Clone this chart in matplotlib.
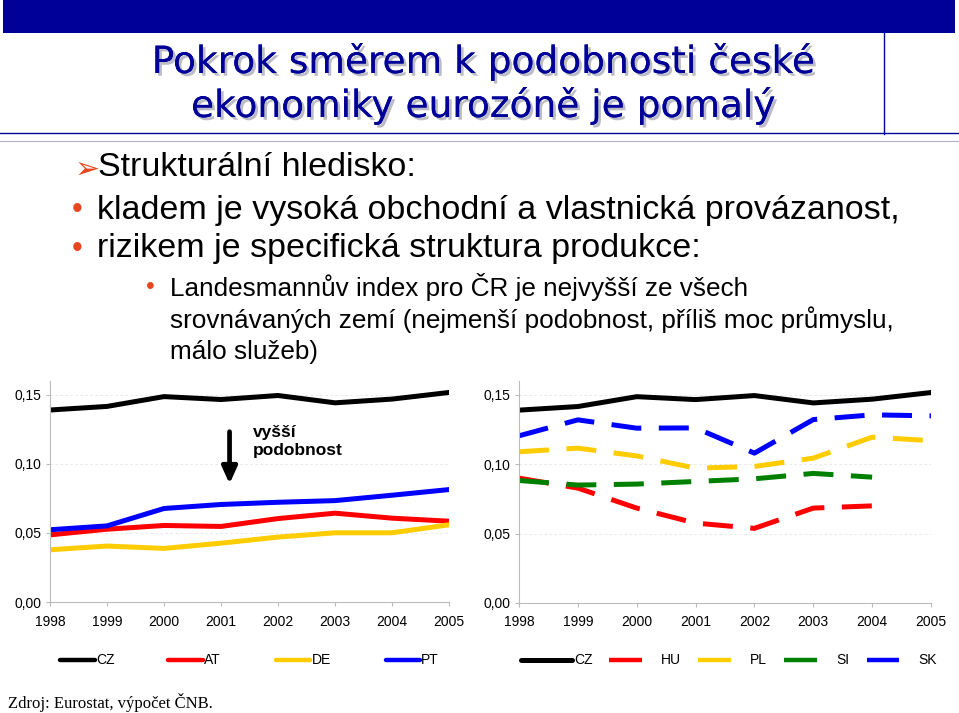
import matplotlib
matplotlib.use("Agg")
import matplotlib.pyplot as plt
from matplotlib.patches import Rectangle
from matplotlib.lines import Line2D
import matplotlib.patheffects as pe

years = [1998, 1999, 2000, 2001, 2002, 2003, 2004, 2005]
year_labels = [str(y) for y in years]

cz = [0.139, 0.1416, 0.1487, 0.1466, 0.1495, 0.1442, 0.1469, 0.1517]
at = [0.0486, 0.0527, 0.0554, 0.0547, 0.0604, 0.0643, 0.0607, 0.0585]
de = [0.0378, 0.0405, 0.0388, 0.0426, 0.0470, 0.0501, 0.0501, 0.0559]
pt = [0.0523, 0.0551, 0.0677, 0.0706, 0.0722, 0.0734, 0.0773, 0.0814]

hu_years = [1998, 1999, 2000, 2001, 2002, 2003, 2004]
hu = [0.0900, 0.0828, 0.0684, 0.0576, 0.0538, 0.0684, 0.0700]
pl = [0.1090, 0.1116, 0.1060, 0.0972, 0.0984, 0.1044, 0.1195, 0.1170]
si_years = [1998, 1999, 2000, 2001, 2002, 2003, 2004]
si = [0.0883, 0.0850, 0.0857, 0.0876, 0.0895, 0.0934, 0.0907]
sk = [0.1205, 0.1320, 0.1260, 0.1262, 0.1080, 0.1322, 0.1356, 0.1349]

yticks = [0.0, 0.05, 0.10, 0.15]
ytick_labels = ["0,00", "0,05", "0,10", "0,15"]

C_BLACK = "#000000"
C_RED = "#FF0000"
C_YEL = "#FFCC00"
C_BLUE = "#0000FF"
C_GREEN = "#008000"
NAVY = "#000099"
BULLET = "#E8461E"

W, H = 959, 713
fig = plt.figure(figsize=(W / 100, H / 100), dpi=100)
fig.patch.set_facecolor("white")

def fx(x):
    return x / W

def fy(y):
    return 1 - y / H

# banner and frame lines
fig.patches.append(Rectangle((fx(3), fy(33)), fx(952), 33 / H, transform=fig.transFigure,
                             facecolor=NAVY, edgecolor="none"))
fig.lines.append(Line2D([fx(884), fx(884)], [fy(33), fy(134)], transform=fig.transFigure,
                        color=NAVY, lw=1.0))
fig.lines.append(Line2D([fx(0), fx(959)], [fy(133), fy(133)], transform=fig.transFigure,
                        color=NAVY, lw=1.0))
fig.lines.append(Line2D([fx(0), fx(959)], [fy(141), fy(141)], transform=fig.transFigure,
                        color="#B0B0C8", lw=0.8))

# title
shadow = [pe.withSimplePatchShadow(offset=(2, -2), shadow_rgbFace="#9090A0", alpha=0.6), pe.Normal()]
for txt, yy in [("Pokrok směrem k podobnosti české", 62), ("ekonomiky eurozóně je pomalý", 106)]:
    fig.text(fx(483), fy(yy), txt, ha="center", va="center", fontsize=27,
             family="DejaVu Sans", color=NAVY, path_effects=shadow)

# bullets
body = "Liberation Sans"
fig.text(fx(75), fy(169), "➢", ha="left", va="center", fontsize=21.5, color=BULLET,
         family="DejaVu Sans")
fig.text(fx(98), fy(168), "Strukturální hledisko:", ha="left", va="center", fontsize=24.5,
         family=body, color="black")
for txt, yy in [("kladem je vysoká obchodní a vlastnická provázanost,", 210),
                ("rizikem je specifická struktura produkce:", 249)]:
    fig.text(fx(72), fy(yy), "•", ha="left", va="center", fontsize=22, family=body, color=BULLET)
    fig.text(fx(97), fy(yy), txt, ha="left", va="center", fontsize=24.5, family=body, color="black")
fig.text(fx(146), fy(287), "•", ha="left", va="center", fontsize=18, family=body, color=BULLET)
for txt, yy in [("Landesmannův index pro ČR je nejvyšší ze všech", 287),
                ("srovnávaných zemí (nejmenší podobnost, příliš moc průmyslu,", 320),
                ("málo služeb)", 352)]:
    fig.text(fx(170), fy(yy), txt, ha="left", va="center", fontsize=18.8, family=body, color="black")

def style_axes(ax):
    ax.set_ylim(0, 0.16)
    ax.set_xlim(1998, 2005)
    ax.set_yticks(yticks)
    ax.set_yticklabels(ytick_labels, fontsize=10, family=body)
    ax.set_xticks(years)
    ax.set_xticklabels(year_labels, fontsize=10, family=body)
    for s in ["top", "right"]:
        ax.spines[s].set_visible(False)
    for s in ["left", "bottom"]:
        ax.spines[s].set_color("#BBBBBB")
        ax.spines[s].set_linewidth(0.8)
    ax.tick_params(axis="both", length=3, color="#BBBBBB", pad=3)
    ax.tick_params(axis="x", pad=6)
    for v in [0.05, 0.10, 0.15]:
        ax.axhline(v, color="#E4E4E4", lw=0.6, ls=(0, (3, 3)), zorder=0)
    ax.set_facecolor("none")

LW = 3.6
# left chart
ax1 = fig.add_axes([fx(50), fy(602), fx(399), 221 / H])
style_axes(ax1)
ax1.plot(years, cz, color=C_BLACK, lw=LW, solid_joinstyle="round", label="CZ")
ax1.plot(years, at, color=C_RED, lw=LW, solid_joinstyle="round", label="AT")
ax1.plot(years, de, color=C_YEL, lw=LW, solid_joinstyle="round", label="DE")
ax1.plot(years, pt, color=C_BLUE, lw=LW, solid_joinstyle="round", label="PT")
ax1.annotate("", xy=(2001.15, 0.0835), xytext=(2001.15, 0.1253),
             arrowprops=dict(arrowstyle="-|>,head_width=0.45,head_length=1.0", color="black", lw=3.4))
ax1.text(2001.56, 0.1165, "vyšší\npodobnost", fontsize=12.5, fontweight="bold", family=body,
         ha="left", va="center", linespacing=1.25)

# right chart
ax2 = fig.add_axes([fx(519), fy(603), fx(412), 222 / H])
style_axes(ax2)
dash = (0, (6, 3.5))
ax2.plot(years, cz, color=C_BLACK, lw=LW, solid_joinstyle="round", label="CZ")
ax2.plot(hu_years, hu, color=C_RED, lw=LW, ls=dash, label="HU")
ax2.plot(years, pl, color=C_YEL, lw=LW, ls=dash, label="PL")
ax2.plot(si_years, si, color=C_GREEN, lw=LW, ls=dash, label="SI")
ax2.plot(years, sk, color=C_BLUE, lw=LW, ls=dash, label="SK")

# legends (drawn manually in figure coordinates)
def legend_item(x0, x1, xl, y, color, label, cap="round", lw=3.2):
    fig.lines.append(Line2D([fx(x0), fx(x1)], [fy(y), fy(y)], transform=fig.transFigure,
                            color=color, lw=lw, solid_capstyle=cap))
    fig.text(fx(xl), fy(y), label, ha="left", va="center", fontsize=10, family=body)

left_names = ["CZ", "AT", "DE", "PT"]
left_cols = [C_BLACK, C_RED, C_YEL, C_BLUE]
left_x = [(60, 95, 96), (168, 203, 204), (276, 310, 312), (386, 420, 421)]
for (a, b, c), col, nm in zip(left_x, left_cols, left_names):
    legend_item(a, b, c, 660, col, nm)

right_names = ["CZ", "HU", "PL", "SI", "SK"]
right_cols = [C_BLACK, C_RED, C_YEL, C_GREEN, C_BLUE]
right_x = [(521, 572, 574), (609, 642, 661), (698, 731, 750), (784, 817, 836), (867, 899, 918)]
for i, ((a, b, c), col, nm) in enumerate(zip(right_x, right_cols, right_names)):
    legend_item(a, b, c, 660, col, nm, cap="round" if i == 0 else "butt", lw=3.6 if i == 0 else 3.2)

fig.text(fx(8), fy(702), "Zdroj: Eurostat, výpočet ČNB.", ha="left", va="center",
         fontsize=12, family="Liberation Serif")

fig.savefig("out.png", dpi=100, facecolor="white")
